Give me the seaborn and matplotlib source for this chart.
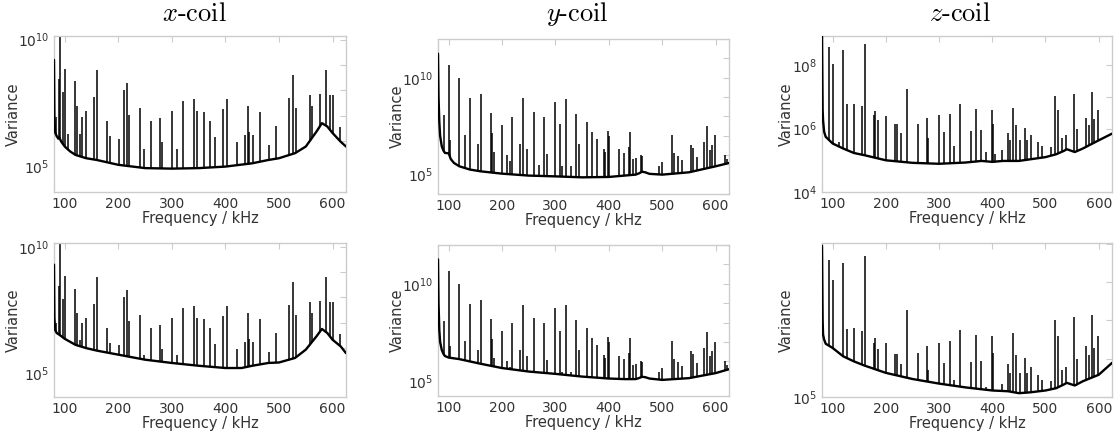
import numpy as np
import matplotlib
matplotlib.use("Agg")
import matplotlib.pyplot as plt
import matplotlib.ticker as mticker
import seaborn as sns

# ---------------- data (log10 of variance) ----------------
coil_titles = [r"$x\text{-coil}$", r"$y\text{-coil}$", r"$z\text{-coil}$"]
x_ticks = [100, 200, 300, 400, 500, 600]

# x-coil peaks (kHz, log10 variance) - shared by both rows
x_peak_f = [83.7, 88.7, 91.8, 96.2, 100, 105.6, 119.5, 123, 127.6, 132, 140, 154.6, 161,
            179.7, 185.4, 200.4, 209.9, 216, 220.5, 240, 247.5, 260.7, 278.3, 281.5, 301,
            309.7, 321, 340.4, 346.7, 360.5, 371.8, 380.6, 395.7, 402.6, 420.8, 437.1,
            441.5, 444.6, 451.5, 464, 481, 494.9, 519.3, 526.3, 532.5, 557.6, 562, 576.5,
            588.4, 595.3, 601.6, 614]
x_peak_v = [6.97, 8.45, 10.3, 7.95, 8.85, 6.3, 8.35, 7.4, 6.3, 6.97, 7.2, 7.75, 8.8,
            6.8, 6.2, 6.1, 8.0, 8.3, 7.05, 7.3, 5.7, 6.8, 6.9, 5.95, 7.2,
            5.7, 7.6, 7.65, 7.2, 7.15, 6.8, 6.15, 7.25, 7.67, 5.95, 6.25,
            7.4, 6.35, 6.25, 7.15, 5.85, 6.6, 7.7, 8.6, 7.3, 7.83, 7.4, 7.85,
            8.8, 7.8, 7.83, 6.55]

# y-coil peaks
y_peak_f = [91.3, 100, 103, 119.9, 130.5, 139.8, 154, 159.7, 179.6, 182, 184.6, 200.1,
            208.8, 215, 219.4, 233.7, 239.3, 246.1, 259.2, 269.2, 278.5, 284.7, 299,
            307.7, 312.7, 318.9, 328.9, 338.8, 345, 359.3, 368.7, 378.6, 390.4, 393.5,
            398.5, 401, 418.4, 429, 438.3, 440.2, 444.5, 450.7, 460.1, 462, 493, 499.3,
            517.9, 522.9, 529.1, 537.8, 554, 557.7, 565.8, 578.2, 584.5, 588.8, 593.8,
            598.1, 617.4, 620.5]
y_peak_v = [8.1, 10.65, 6.8, 10.0, 7.07, 8.97, 6.6, 9.17, 8.19, 7.16, 6.17, 7.55,
            6.03, 5.72, 7.98, 6.59, 8.93, 6.3, 8.22, 5.48, 7.98, 6.05, 8.74,
            7.59, 5.47, 8.91, 5.47, 8.14, 6.59, 7.71, 7.22, 6.84, 6.34, 6.17,
            7.24, 6.98, 6.3, 6.12, 6.41, 7.19, 5.81, 5.86, 6.03, 5.95, 5.47, 5.64,
            7.07, 6.12, 5.95, 5.78, 6.52, 6.38, 5.9, 6.69, 7.53, 6.29, 6.55,
            7.02, 6.03, 5.83]

# z-coil peaks
z_peak_f = [93.2, 100.6, 111.8, 119.9, 127.4, 140.5, 154.8, 161, 177.2, 180.3, 185.3,
            200.2, 216.4, 220.2, 227.6, 240.1, 260, 277.5, 279.3, 299.9, 308.6, 319.8,
            327.9, 339.1, 359.7, 369.6, 378.3, 388.9, 399.5, 401.4, 404.5, 418.2, 429.4,
            432.5, 438.8, 443.7, 451.2, 462.4, 466.1, 473.6, 485.4, 492.9, 511, 518.4,
            524, 531.5, 538.4, 553.9, 559.5, 575.7, 581.9, 586.9, 591.9, 598.8]
z_peak_v = [8.58, 8.05, 5.58, 8.49, 6.77, 6.79, 6.71, 8.68, 6.42, 6.55, 6.26,
            6.4, 6.13, 6.13, 5.87, 7.26, 6.14, 6.32, 5.71, 6.42, 5.89, 6.45,
            5.45, 6.76, 5.92, 6.63, 5.95, 5.26, 6.6, 6.16, 5.19, 5.34, 5.86,
            5.63, 6.66, 6.1, 5.63, 6.02, 5.63, 5.79, 5.58, 5.45, 5.42, 7.02,
            6.58, 5.71, 5.79, 7.1, 5.98, 6.34, 6.1, 7.14, 6.29, 6.58]

# background (noise floor) curves, row 1
x1_base_f = [80, 80.8, 82, 85, 88, 90, 93, 100, 110, 120, 140, 160, 200, 250, 300, 350,
             400, 450, 480, 500, 530, 550, 570, 580, 590, 600, 615, 625]
x1_base_v = [9.2, 7.0, 6.35, 6.2, 6.1, 6.15, 6.0, 5.79, 5.6, 5.46, 5.33, 5.26, 5.07, 4.94,
             4.92, 4.94, 5.0, 5.13, 5.26, 5.33, 5.53, 5.79, 6.38, 6.71, 6.58, 6.32, 5.98, 5.79]
y1_base_f = [80, 81, 82.5, 84, 87, 90, 93, 100, 104, 110, 120, 140, 160, 200, 250, 300,
             350, 400, 450, 456, 462, 468, 476, 500, 550, 600, 625]
y1_base_v = [11.24, 9.0, 7.7, 7.0, 6.47, 6.25, 6.12, 6.1, 5.8, 5.6, 5.43, 5.26, 5.17,
             5.05, 4.95, 4.91, 4.86, 4.88, 5.0, 5.06, 5.15, 5.12, 5.04, 5.0, 5.12, 5.43, 5.6]
z1_base_f = [80, 81.2, 82, 84, 87, 100, 120, 140, 160, 200, 250, 300, 350, 380, 400, 420,
             450, 500, 520, 535, 540, 555, 570, 600, 625]
z1_base_v = [9.0, 6.6, 6.26, 5.9, 5.74, 5.53, 5.37, 5.23, 5.16, 5.0, 4.92, 4.89, 4.93,
             4.98, 4.95, 4.98, 4.98, 5.1, 5.19, 5.3, 5.35, 5.26, 5.37, 5.63, 5.84]

# background curves, row 2
x2_base_f = [80, 80.8, 82, 85, 90, 100, 120, 140, 160, 200, 250, 300, 350, 400, 430, 450,
             480, 500, 530, 550, 570, 580, 590, 600, 615, 625]
x2_base_v = [9.3, 7.2, 6.72, 6.59, 6.52, 6.36, 6.12, 5.99, 5.89, 5.73, 5.53, 5.4, 5.29,
             5.2, 5.2, 5.29, 5.4, 5.42, 5.6, 5.93, 6.46, 6.75, 6.59, 6.32, 6.06, 5.79]
y2_base_f = [80, 81, 82.5, 84, 87, 90, 93, 100, 120, 140, 160, 200, 250, 300, 350, 400,
             430, 450, 456, 462, 468, 476, 500, 550, 600, 625]
y2_base_v = [11.26, 9.0, 7.6, 7.0, 6.6, 6.4, 6.28, 6.2, 6.12, 6.0, 5.88, 5.66, 5.48, 5.36,
             5.22, 5.12, 5.09, 5.09, 5.14, 5.21, 5.19, 5.12, 5.05, 5.14, 5.4, 5.6]
z2_base_f = [80, 81.2, 82, 84, 87, 100, 120, 140, 160, 200, 250, 300, 350, 400, 430, 450,
             470, 500, 520, 535, 540, 555, 570, 600, 625]
z2_base_v = [8.95, 7.0, 6.63, 6.5, 6.39, 6.28, 6.06, 5.93, 5.82, 5.63, 5.47, 5.35, 5.25,
             5.17, 5.15, 5.1, 5.12, 5.17, 5.23, 5.33, 5.37, 5.3, 5.41, 5.58, 5.89]

# axis limits (log10) and labelled decades
ylims = [[(4.0, 10.14), (4.0, 12.0), (4.0, 8.92)],
         [(4.05, 10.16), (4.22, 12.0), (5.0, 9.02)]]
major_decades = [[[5, 10], [5, 10], [4, 6, 8]],
                 [[5, 10], [5, 10], [5]]]

peaks = [(x_peak_f, x_peak_v), (y_peak_f, y_peak_v), (z_peak_f, z_peak_v)]
bases = [[(x1_base_f, x1_base_v), (y1_base_f, y1_base_v), (z1_base_f, z1_base_v)],
         [(x2_base_f, x2_base_v), (y2_base_f, y2_base_v), (z2_base_f, z2_base_v)]]

# ---------------- style ----------------
sns.set_style("white")
plt.rcParams.update({
    "font.family": ["DejaVu Sans"],
    "mathtext.fontset": "cm",
    "axes.edgecolor": "#cccccc",
    "axes.linewidth": 1.0,
    "xtick.color": "#cccccc",
    "ytick.color": "#cccccc",
    "xtick.labelcolor": "#333333",
    "ytick.labelcolor": "#333333",
    "axes.labelcolor": "#333333",
})

W, H = 1115, 440
fig = plt.figure(figsize=(W / 100, H / 100), dpi=100)

# pixel boxes (left, top, right, bottom)
boxes = [[(54, 36, 346, 192), (438, 39, 729, 194), (822, 36, 1112, 192)],
         [(54, 243, 346, 397), (438, 245, 729, 396), (822, 243, 1112, 397)]]
ylabel_right_px = [21, 405, 794]
title_x = [194, 577, 960]

for r in range(2):
    for c in range(3):
        l, t, rr, b = boxes[r][c]
        aw, ah = rr - l, b - t
        ax = fig.add_axes([l / W, 1 - b / H, aw / W, ah / H])
        lo, hi = ylims[r][c]
        ax.set_yscale("log")
        ax.set_xlim(80, 625)
        ax.set_ylim(10 ** lo, 10 ** hi)

        pf, pv = peaks[c]
        bf, bv = bases[r][c]
        ax.vlines(pf, 10 ** lo, 10 ** np.array(pv), color="black", lw=1.1, zorder=1)
        ax.fill_between(bf, 10 ** lo, 10 ** np.array(bv), color="white", lw=0, zorder=2)
        sns.lineplot(x=bf, y=10 ** np.array(bv), ax=ax, color="black", lw=1.7,
                     zorder=3, sort=False, estimator=None)

        ax.xaxis.set_major_locator(mticker.FixedLocator(x_ticks))
        ax.xaxis.set_minor_locator(mticker.NullLocator())
        majors = major_decades[r][c]
        minors = [d for d in range(int(np.floor(lo)), int(np.ceil(hi)) + 1) if d not in majors]
        ax.yaxis.set_major_locator(mticker.FixedLocator([10.0 ** d for d in majors]))
        ax.yaxis.set_minor_locator(mticker.FixedLocator([10.0 ** d for d in minors]))
        ax.yaxis.set_minor_formatter(mticker.NullFormatter())
        ax.yaxis.set_major_formatter(mticker.LogFormatterSciNotation())
        ax.tick_params(which="both", direction="in", top=True, right=True,
                       length=4, width=0.8, labelsize=10)
        ax.set_xlabel("Frequency / kHz", fontsize=10.5, labelpad=0)
        ax.set_ylabel("Variance", fontsize=10.5)
        ax.yaxis.set_label_coords((ylabel_right_px[c] - l) / aw, 0.5)
        for s in ax.spines.values():
            s.set_visible(True)
            s.set_color("#cccccc")

        if r == 0:
            fig.text(title_x[c] / W, 1 - 14 / H, coil_titles[c], fontsize=19,
                     ha="center", va="center", color="black")

fig.savefig("out.png", dpi=100)
